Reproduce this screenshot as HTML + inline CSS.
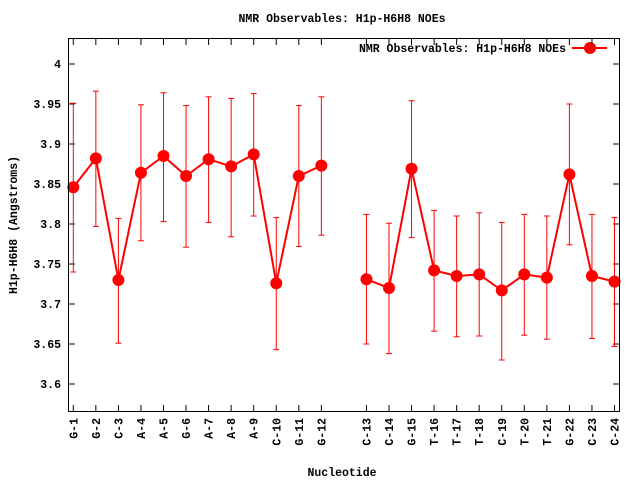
<!DOCTYPE html>
<html><head><style>
body{margin:0;background:#fff;}
svg text{font-family:"Liberation Mono",monospace;font-weight:bold;font-size:11.5px;fill:#000;}
</style></head><body>
<svg id="s" width="640" height="480" xmlns="http://www.w3.org/2000/svg">
<rect width="640" height="480" fill="#fff"/>
<text x="342" y="22" text-anchor="middle">NMR Observables: H1p-H6H8 NOEs</text>
<text x="342" y="476" text-anchor="middle">Nucleotide</text>
<text transform="translate(17,225) rotate(-90)" text-anchor="middle">H1p-H6H8 (Angstroms)</text>
<g text-anchor="end">
<text x="61" y="68">4</text>
<text x="61" y="108">3.95</text>
<text x="61" y="148">3.9</text>
<text x="61" y="188">3.85</text>
<text x="61" y="228">3.8</text>
<text x="61" y="268">3.75</text>
<text x="61" y="308">3.7</text>
<text x="61" y="348">3.65</text>
<text x="61" y="388">3.6</text>
</g>
<g id="xl" text-anchor="end">
<text transform="translate(77.3,418) rotate(-90)">G-1</text>
<text transform="translate(99.9,418) rotate(-90)">G-2</text>
<text transform="translate(122.4,418) rotate(-90)">C-3</text>
<text transform="translate(145,418) rotate(-90)">A-4</text>
<text transform="translate(167.5,418) rotate(-90)">A-5</text>
<text transform="translate(190.1,418) rotate(-90)">G-6</text>
<text transform="translate(212.6,418) rotate(-90)">A-7</text>
<text transform="translate(235.2,418) rotate(-90)">A-8</text>
<text transform="translate(257.7,418) rotate(-90)">A-9</text>
<text transform="translate(280.3,418) rotate(-90)">C-10</text>
<text transform="translate(302.8,418) rotate(-90)">G-11</text>
<text transform="translate(325.4,418) rotate(-90)">G-12</text>
<text transform="translate(370.5,418) rotate(-90)">C-13</text>
<text transform="translate(393,418) rotate(-90)">C-14</text>
<text transform="translate(415.6,418) rotate(-90)">G-15</text>
<text transform="translate(438.1,418) rotate(-90)">T-16</text>
<text transform="translate(460.7,418) rotate(-90)">T-17</text>
<text transform="translate(483.2,418) rotate(-90)">T-18</text>
<text transform="translate(505.8,418) rotate(-90)">C-19</text>
<text transform="translate(528.3,418) rotate(-90)">T-20</text>
<text transform="translate(550.9,418) rotate(-90)">T-21</text>
<text transform="translate(573.4,418) rotate(-90)">G-22</text>
<text transform="translate(596,418) rotate(-90)">C-23</text>
<text transform="translate(618.5,418) rotate(-90)">C-24</text>
</g>
<text x="566" y="52" text-anchor="end">NMR Observables: H1p-H6H8 NOEs</text>
<line x1="572" y1="48" x2="607" y2="48" stroke="#f00" stroke-width="2"/>
<circle cx="590" cy="48" r="6" fill="#f00"/>
<g id="g"></g>
<rect x="68.5" y="38.5" width="551" height="373" fill="none" stroke="#000" stroke-width="1"/>
</svg>
<script>
var d=[[3.846,3.740,3.951],[3.882,3.797,3.966],[3.730,3.651,3.807],[3.864,3.779,3.949],[3.885,3.803,3.964],[3.860,3.771,3.948],[3.881,3.802,3.959],[3.872,3.784,3.957],[3.887,3.810,3.963],[3.726,3.643,3.808],[3.860,3.772,3.948],[3.873,3.786,3.959],
[3.731,3.650,3.812],[3.720,3.638,3.801],[3.869,3.783,3.954],[3.742,3.666,3.817],[3.735,3.659,3.810],[3.737,3.660,3.814],[3.717,3.630,3.802],[3.737,3.661,3.812],[3.733,3.656,3.810],[3.862,3.774,3.950],[3.735,3.657,3.812],[3.728,3.647,3.808]];
function X(i){return 73.3+(i<12?i:i+1)*22.55;}
function Y(v){return 64+(4-v)*800;}
var h='',p='';
for(var k=0;k<9;k++){var y=Y(4-k*0.05);h+='<line x1="69" y1="'+y+'" x2="75" y2="'+y+'" stroke="#000"/><line x1="613" y1="'+y+'" x2="619" y2="'+y+'" stroke="#000"/>';}
for(var i=0;i<24;i++){var x=X(i);h+='<line x1="'+x+'" y1="39" x2="'+x+'" y2="45" stroke="#000"/><line x1="'+x+'" y1="405" x2="'+x+'" y2="411" stroke="#000"/>';}
for(var i=0;i<24;i++){var x=X(i),a=Y(d[i][1]),b=Y(d[i][2]);
h+='<line x1="'+x+'" y1="'+a+'" x2="'+x+'" y2="'+b+'" stroke="#f00"/><line x1="'+(x-3)+'" y1="'+a+'" x2="'+(x+3)+'" y2="'+a+'" stroke="#f00"/><line x1="'+(x-3)+'" y1="'+b+'" x2="'+(x+3)+'" y2="'+b+'" stroke="#f00"/>';}
p='';for(var i=0;i<12;i++)p+=(i?'L':'M')+X(i)+' '+Y(d[i][0]);
for(var i=12;i<24;i++)p+=(i>12?'L':'M')+X(i)+' '+Y(d[i][0]);
h+='<path d="'+p+'" fill="none" stroke="#f00" stroke-width="2"/>';
for(var i=0;i<24;i++)h+='<circle cx="'+X(i)+'" cy="'+Y(d[i][0])+'" r="6" fill="#f00"/>';
document.getElementById('g').innerHTML=h;
</script>
</body></html>
